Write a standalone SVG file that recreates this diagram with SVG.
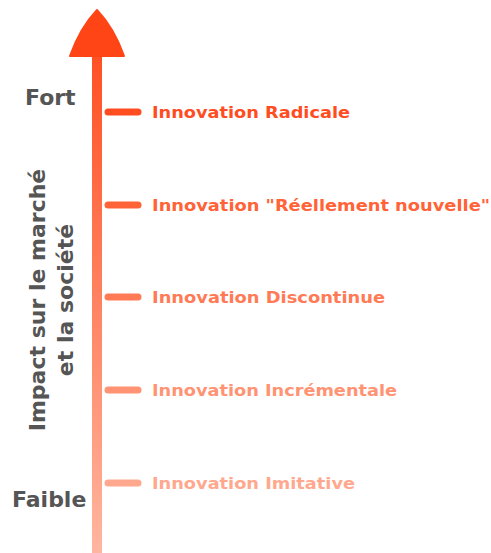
<svg xmlns="http://www.w3.org/2000/svg" width="491" height="553" viewBox="0 0 491 553">
<defs>
<linearGradient id="shaft" x1="0" y1="0" x2="0" y2="553" gradientUnits="userSpaceOnUse">
<stop offset="0" stop-color="#ff4516"/>
<stop offset="1" stop-color="#ffb6a0"/>
</linearGradient>
<style>
.lbl{font-family:"DejaVu Sans",sans-serif;font-weight:bold;font-size:15.5px}
.side{font-family:"DejaVu Sans",sans-serif;font-weight:bold;font-size:22px;fill:#555555}
.tick{stroke-width:7;stroke-linecap:round}
</style>
</defs>
<g id="axis">
<rect x="92" y="50" width="10" height="503" fill="url(#shaft)"/>
<path d="M97,10 Q80,28 70,56 L124,56 Q114,28 97,10 Z" fill="#ff4516" stroke="#ff4516" stroke-width="2" stroke-linejoin="round"/>
</g>
<g id="connectors">
<line class="tick" x1="108" y1="112" x2="138" y2="112" stroke="#ff4d1f"/>
<line class="tick" x1="108" y1="205" x2="138" y2="205" stroke="#ff6337"/>
<line class="tick" x1="108" y1="297" x2="138" y2="297" stroke="#ff7a55"/>
<line class="tick" x1="108" y1="390" x2="138" y2="390" stroke="#ff9373"/>
<line class="tick" x1="108" y1="483" x2="138" y2="483" stroke="#ffa88e"/>
</g>
<g id="n1"><text class="lbl" x="152" y="118" fill="#ff4d1f" textLength="198" lengthAdjust="spacingAndGlyphs">Innovation Radicale</text></g>
<g id="n2"><text class="lbl" x="152" y="211" fill="#ff6337" textLength="338" lengthAdjust="spacingAndGlyphs">Innovation "Réellement nouvelle"</text></g>
<g id="n3"><text class="lbl" x="152" y="303" fill="#ff7a55" textLength="233" lengthAdjust="spacingAndGlyphs">Innovation Discontinue</text></g>
<g id="n4"><text class="lbl" x="152" y="396" fill="#ff9373" textLength="245" lengthAdjust="spacingAndGlyphs">Innovation Incrémentale</text></g>
<g id="n5"><text class="lbl" x="152" y="489" fill="#ffa88e" textLength="203" lengthAdjust="spacingAndGlyphs">Innovation Imitative</text></g>
<g id="fort"><text class="side" x="25" y="105">Fort</text></g>
<g id="faible"><text class="side" x="12" y="507">Faible</text></g>
<g id="ylabel"><text class="side" transform="translate(45,300) rotate(-90)" text-anchor="middle"><tspan x="0" y="0">Impact sur le marché</tspan><tspan x="0" y="28">et la société</tspan></text></g>
</svg>
